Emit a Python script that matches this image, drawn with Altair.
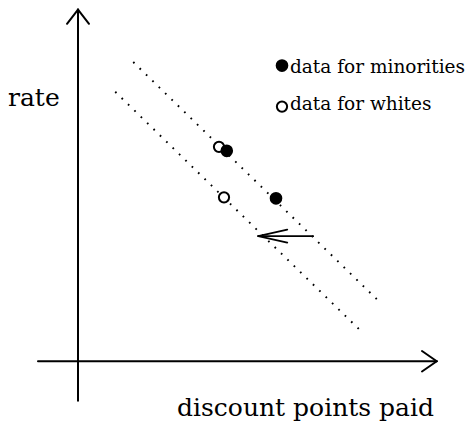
import altair as alt
import pandas as pd

# ---- coordinate frame (abstract data units, origin where the axes cross) ----
X_DOMAIN = [-2.8, 15.52]
Y_DOMAIN = [-2.468, 14.132]

# ---- axes with arrowheads (segments: x, y -> x2, y2) ----
axis_x1 = [0.0, -0.44, 0.44, -1.6, 13.76, 13.76]
axis_y1 = [-1.576, 13.5, 13.5, 0.0, 0.41, -0.41]
axis_x2 = [0.0, 0.0, 0.0, 14.35, 14.35, 14.35]
axis_y2 = [14.07, 14.07, 14.07, 0.0, 0.0, 0.0]

# ---- two dotted iso-cost lines ----
dot_x1 = [2.21, 1.49]
dot_y1 = [11.97, 10.78]
dot_x2 = [12.15, 11.41]
dot_y2 = [2.29, 1.12]

# ---- shift arrow ----
arr_x1 = [9.41, 8.37, 8.37]
arr_y1 = [5.01, 5.27, 4.75]
arr_x2 = [7.21, 7.21, 7.21]
arr_y2 = [5.01, 5.01, 5.01]

# ---- data points ----
white_x = [5.64, 5.84]
white_y = [8.58, 6.56]
minority_x = [5.95, 7.92]
minority_y = [8.42, 6.52]

# ---- legend ----
leg_labels = ["data for minorities", "data for whites"]
leg_marker_x = [8.16, 8.16]
leg_marker_y = [11.83, 10.19]
leg_text_x = [8.48, 8.48]
leg_text_y = [11.55, 10.05]

# ---- axis titles ----
title_labels = ["rate", "discount points paid"]
title_x = [-2.8, 9.1]
title_y = [10.21, -2.17]

FONT = "DejaVu Serif"

xs = alt.Scale(domain=X_DOMAIN, nice=False, zero=False)
ys = alt.Scale(domain=Y_DOMAIN, nice=False, zero=False)


def seg_df(x1, y1, x2, y2):
    return pd.DataFrame({"x": x1, "y": y1, "x2": x2, "y2": y2})


def xy():
    return dict(
        x=alt.X("x:Q", scale=xs, axis=None),
        y=alt.Y("y:Q", scale=ys, axis=None),
    )


axes = alt.Chart(seg_df(axis_x1, axis_y1, axis_x2, axis_y2)).mark_rule(
    color="black", strokeWidth=2, strokeCap="round"
).encode(x2="x2:Q", y2="y2:Q", **xy())

dotted = alt.Chart(seg_df(dot_x1, dot_y1, dot_x2, dot_y2)).mark_rule(
    color="black", strokeWidth=1.9, strokeDash=[1.7, 7.2], strokeCap="butt"
).encode(x2="x2:Q", y2="y2:Q", **xy())

arrow = alt.Chart(seg_df(arr_x1, arr_y1, arr_x2, arr_y2)).mark_rule(
    color="black", strokeWidth=1.8, strokeCap="round"
).encode(x2="x2:Q", y2="y2:Q", **xy())

whites = alt.Chart(
    pd.DataFrame({"x": white_x + [leg_marker_x[1]], "y": white_y + [leg_marker_y[1]]})
).mark_point(
    shape="circle", filled=False, fill="white", fillOpacity=1, stroke="black",
    strokeWidth=2, size=105, opacity=1
).encode(**xy())

minorities = alt.Chart(
    pd.DataFrame({"x": minority_x + [leg_marker_x[0]], "y": minority_y + [leg_marker_y[0]]})
).mark_point(
    shape="circle", filled=True, color="black", size=160, opacity=1
).encode(**xy())

legend_text = alt.Chart(
    pd.DataFrame({"x": leg_text_x, "y": leg_text_y, "t": leg_labels})
).mark_text(
    font=FONT, fontSize=18.5, align="left", baseline="alphabetic", color="black"
).encode(text="t:N", **xy())

title_rate = alt.Chart(
    pd.DataFrame({"x": title_x[:1], "y": title_y[:1], "t": title_labels[:1]})
).mark_text(
    font=FONT, fontSize=25, baseline="alphabetic", align="left", color="black"
).encode(text="t:N", **xy())

title_x_axis = alt.Chart(
    pd.DataFrame({"x": title_x[1:], "y": title_y[1:], "t": title_labels[1:]})
).mark_text(
    font=FONT, fontSize=25, baseline="alphabetic", align="center", color="black"
).encode(text="t:N", **xy())

chart = alt.layer(
    axes, dotted, arrow, whites, minorities, legend_text, title_rate, title_x_axis
).properties(
    width=458, height=415, padding=0, autosize="none", background="white"
).configure_view(stroke=None, clip=False)

chart.save("out.html", embed_options={"renderer": "svg", "actions": False})
